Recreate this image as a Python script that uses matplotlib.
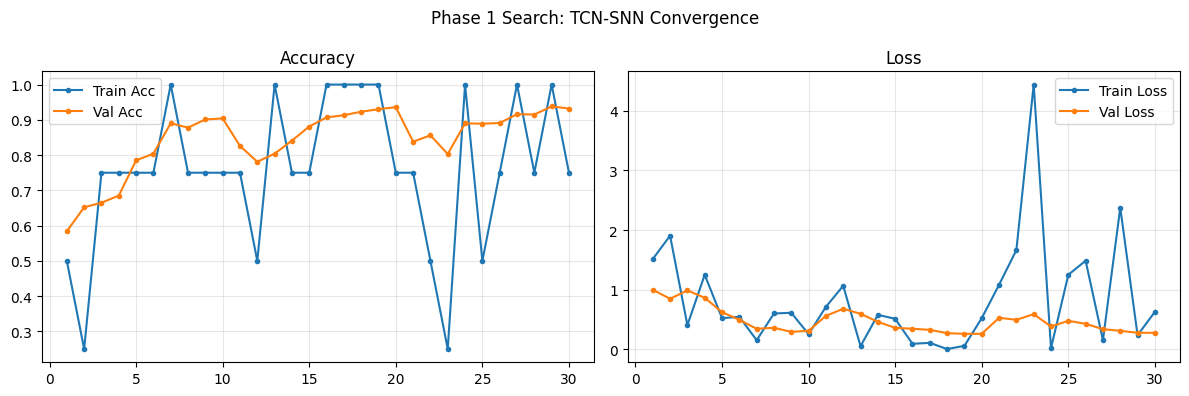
import matplotlib
matplotlib.use("Agg")
import matplotlib.pyplot as plt

epochs = list(range(1, 31))
train_acc = [0.5, 0.25, 0.75, 0.75, 0.75, 0.75, 1.0, 0.75, 0.75, 0.75,
             0.75, 0.5, 1.0, 0.75, 0.75, 1.0, 1.0, 1.0, 1.0, 0.75,
             0.75, 0.5, 0.25, 1.0, 0.5, 0.75, 1.0, 0.75, 1.0, 0.75]
val_acc = [0.584, 0.652, 0.665, 0.685, 0.785, 0.804, 0.890, 0.878, 0.901, 0.904,
           0.826, 0.781, 0.804, 0.841, 0.881, 0.907, 0.913, 0.923, 0.930, 0.936,
           0.838, 0.856, 0.803, 0.890, 0.889, 0.891, 0.916, 0.915, 0.938, 0.932]
train_loss = [1.513, 1.905, 0.403, 1.249, 0.521, 0.543, 0.151, 0.599, 0.611, 0.252,
              0.711, 1.064, 0.050, 0.577, 0.510, 0.090, 0.106, 0.002, 0.056, 0.521,
              1.081, 1.664, 4.443, 0.017, 1.249, 1.485, 0.151, 2.375, 0.235, 0.627]
val_loss = [0.997, 0.846, 0.986, 0.863, 0.622, 0.493, 0.342, 0.359, 0.291, 0.308,
            0.560, 0.678, 0.594, 0.459, 0.359, 0.342, 0.325, 0.269, 0.258, 0.258,
            0.527, 0.493, 0.588, 0.381, 0.476, 0.426, 0.336, 0.308, 0.275, 0.275]

fig, (ax1, ax2) = plt.subplots(1, 2, figsize=(12, 4), dpi=100)

ax1.plot(epochs, train_acc, marker='o', markersize=3, label='Train Acc')
ax1.plot(epochs, val_acc, marker='o', markersize=3, label='Val Acc')
ax1.set_title('Accuracy')
ax1.legend(loc='upper left')
ax1.grid(True, alpha=0.3)

ax2.plot(epochs, train_loss, marker='o', markersize=3, label='Train Loss')
ax2.plot(epochs, val_loss, marker='o', markersize=3, label='Val Loss')
ax2.set_title('Loss')
ax2.legend(loc='upper right')
ax2.grid(True, alpha=0.3)

fig.suptitle('Phase 1 Search: TCN-SNN Convergence')
fig.tight_layout()
fig.savefig('out.png', dpi=100, bbox_inches='tight')
